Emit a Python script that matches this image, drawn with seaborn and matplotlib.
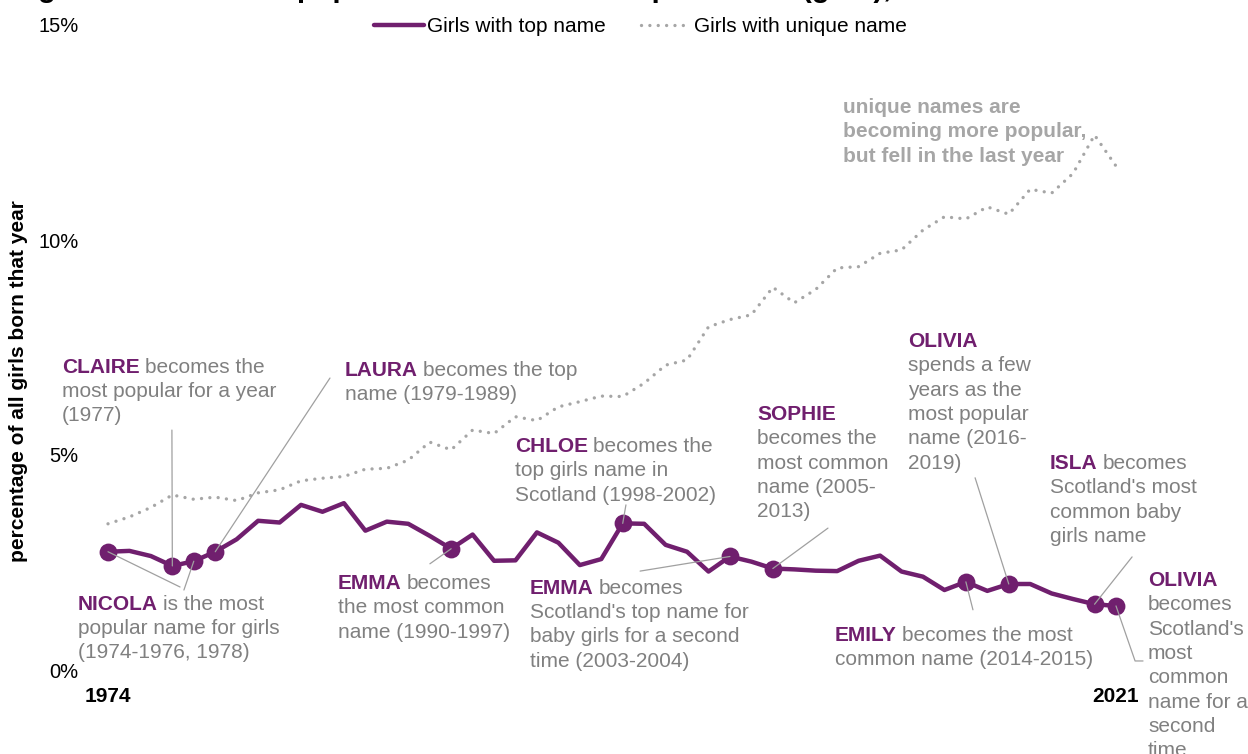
import numpy as np
import pandas as pd
import matplotlib
matplotlib.use("Agg")
import matplotlib.pyplot as plt
from matplotlib.lines import Line2D
import seaborn as sns

# Data (% of all girls born that year)
years = list(range(1974, 2022))
top_name = [2.75, 2.77, 2.65, 2.42, 2.53, 2.75, 3.04, 3.47, 3.43, 3.84,
            3.68, 3.88, 3.24, 3.45, 3.40, 3.12, 2.82, 3.15, 2.54, 2.55,
            3.20, 2.96, 2.44, 2.58, 3.41, 3.40, 2.91, 2.75, 2.29, 2.64,
            2.52, 2.36, 2.34, 2.31, 2.30, 2.54, 2.66, 2.29, 2.17, 1.86,
            2.05, 1.84, 2.00, 2.00, 1.78, 1.65, 1.53, 1.49]
unique_name = [3.40, 3.56, 3.78, 4.07, 3.97, 4.02, 3.94, 4.12, 4.19, 4.40,
               4.46, 4.50, 4.67, 4.69, 4.88, 5.30, 5.12, 5.58, 5.50, 5.89,
               5.80, 6.12, 6.24, 6.37, 6.36, 6.67, 7.09, 7.21, 7.98, 8.15,
               8.26, 8.90, 8.54, 8.85, 9.35, 9.38, 9.69, 9.77, 10.23, 10.54,
               10.49, 10.77, 10.60, 11.18, 11.09, 11.55, 12.44, 11.72]
# years where a new name takes the top spot
change_years = [1974, 1977, 1978, 1979, 1990, 1998, 2003, 2005, 2014, 2016, 2020, 2021]

df = pd.DataFrame({"year": years, "top": top_name, "unique": unique_name})
marks = df[df.year.isin(change_years)]

PURPLE = "#701f6e"
GREY_TXT = "#808080"
GREY_LINE = "#a6a6a6"
LEADER = "#a0a0a0"
FS = 15

sns.set_style("white")
plt.rcParams["font.family"] = ["Liberation Sans", "DejaVu Sans"]
plt.rcParams["text.color"] = "black"
plt.rcParams["xtick.color"] = "black"
plt.rcParams["ytick.color"] = "black"
plt.rcParams["axes.labelcolor"] = "black"

W, H = 1248, 754
fig = plt.figure(figsize=(W / 100, H / 100), dpi=100)
ax = fig.add_axes([108 / W, 84 / H, 1008 / W, 645 / H])

sns.lineplot(data=df, x="year", y="unique", ax=ax, color=GREY_LINE, lw=2.4,
             linestyle=(0, (0.01, 2.5)), dash_capstyle="round", clip_on=False)
sns.lineplot(data=df, x="year", y="top", ax=ax, color=PURPLE, lw=3.2,
             clip_on=False, zorder=3)
sns.scatterplot(data=marks, x="year", y="top", ax=ax, color=PURPLE, s=165,
                edgecolor=PURPLE, linewidth=0, zorder=4, clip_on=False)

ax.set_xlim(1974, 2021)
ax.set_ylim(0, 15)
ax.set_yticks([0, 5, 10, 15])
ax.set_yticklabels(["0%", "5%", "10%", "15%"], fontsize=14.5)
ax.set_xticks([1974, 2021])
ax.set_xticklabels(["1974", "2021"], fontsize=FS, fontweight="bold")
ax.tick_params(axis="y", length=0, pad=21)
ax.tick_params(axis="x", length=0, pad=12)
for s in ax.spines.values():
    s.set_visible(False)
ax.set_xlabel("")
ax.set_ylabel("percentage of all girls born that year", fontsize=FS,
              fontweight="bold")
ax.yaxis.set_label_coords(-0.079, 0.448)

# legend
handles = [Line2D([], [], color=PURPLE, lw=3.2),
           Line2D([], [], color=GREY_LINE, lw=2.4, linestyle=(0, (0.01, 2.5)),
                  dash_capstyle="round")]
fig.legend(handles, ["Girls with top name", "Girls with unique name"],
           loc="center", bbox_to_anchor=(0.513, 1 - 27 / H), ncol=2,
           frameon=False, fontsize=FS, handlelength=2.4, handletextpad=0.15,
           columnspacing=1.7)

# title (clipped by the top edge, as in the source image)
fig.text(12 / W, 1.004, "Figure 10: The most popular name versus unique names (girls), 1974-2021",
         fontsize=21, fontweight="bold", va="baseline", ha="left")

LINE_GAP = 24.3  # pixels between lines


def label(x, y, name, first, rest, color=GREY_TXT):
    t = ax.text(x, y, name, color=PURPLE, fontsize=FS, fontweight="bold",
                va="baseline", ha="left")
    if first:
        ax.annotate(first, xy=(1, 0), xycoords=t, xytext=(5, 0),
                    textcoords="offset pixels", va="bottom", ha="left",
                    color=color, fontsize=FS)
    for i, line in enumerate(rest, start=1):
        ax.annotate(line, xy=(x, y), xytext=(0, -LINE_GAP * i),
                    textcoords="offset pixels", va="baseline", ha="left",
                    color=color, fontsize=FS, annotation_clip=False)


def leader(pts, year):
    xs = [p[0] for p in pts] + [year]
    ys = [p[1] for p in pts] + [df.loc[df.year == year, "top"].item()]
    ax.plot(xs, ys, color=LEADER, lw=0.9, zorder=5, clip_on=False)


label(1971.86, 6.91, "CLAIRE", "becomes the", ["most popular for a year", "(1977)"])
leader([(1976.98, 5.58)], 1977)

label(1985.05, 6.84, "LAURA", "becomes the top", ["name (1979-1989)"])
leader([(1984.35, 6.79)], 1979)

label(1972.60, 1.40, "NICOLA", "is the most", ["popular name for girls", "(1974-1976, 1978)"])
leader([(1977.36, 1.93)], 1974)
leader([(1977.54, 1.86)], 1978)

label(1984.72, 1.88, "EMMA", "becomes", ["the most common", "name (1990-1997)"])
leader([(1989.01, 2.47)], 1990)

label(1992.98, 5.07, "CHLOE", "becomes the", ["top girls name in", "Scotland (1998-2002)"])
leader([(1998.15, 3.84)], 1998)

label(1993.68, 1.77, "EMMA", "becomes", ["Scotland's top name for",
                                         "baby girls for a second", "time (2003-2004)"])
leader([(1998.81, 2.30)], 2003)

label(2004.26, 5.81, "SOPHIE", "", ["becomes the", "most common", "name (2005-", "2013)"])
leader([(2007.57, 3.30)], 2005)

label(2007.90, 0.67, "EMILY", "becomes the most", ["common name (2014-2015)"])
leader([(2014.33, 1.40)], 2014)

label(2011.30, 7.51, "OLIVIA", "", ["spends a few", "years as the", "most popular",
                                   "name (2016-", "2019)"])
leader([(2014.43, 4.47)], 2016)

label(2017.92, 4.67, "ISLA", "becomes", ["Scotland's most", "common baby", "girls name"])
leader([(2021.75, 2.63)], 2020)

label(2022.49, 1.95, "OLIVIA", "", ["becomes", "Scotland's", "most", "common",
                                   "name for a", "second", "time"])
leader([(2022.26, 0.21), (2021.89, 0.21)], 2021)

# note on the unique-name line
note_lines = ["unique names are", "becoming more popular,", "but fell in the last year"]
for i, line in enumerate(note_lines):
    ax.annotate(line, xy=(2008.27, 12.95), xytext=(0, -LINE_GAP * i),
                textcoords="offset pixels", va="baseline", ha="left",
                color=GREY_LINE, fontsize=FS, fontweight="bold")

fig.savefig("out.png", dpi=100)
